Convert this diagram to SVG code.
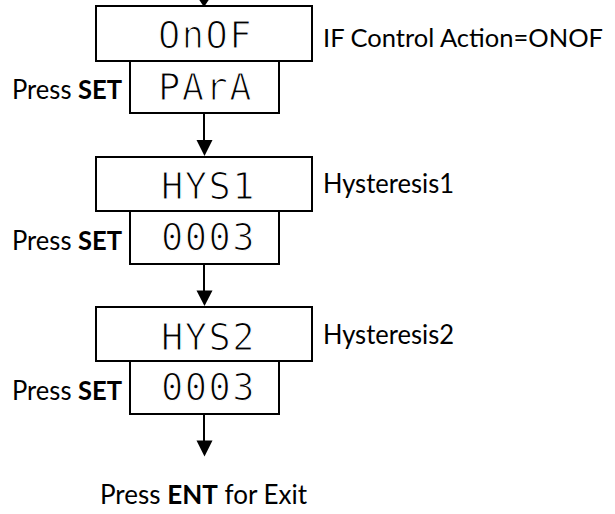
<svg xmlns="http://www.w3.org/2000/svg" width="615" height="514" viewBox="0 0 615 514">
<style>
.box{fill:#fff;stroke:#000;stroke-width:2}
.seg{font-family:"DejaVu Sans Mono","Liberation Mono",monospace;font-size:37px;fill:#000;stroke:#fff;stroke-width:1.2;letter-spacing:1.5px}
.lbl{font-family:Lato,"Open Sans","Liberation Sans",sans-serif;font-size:27px;fill:#000}
.sm{font-size:25px}
.b{font-weight:bold}
.ln{stroke:#000;stroke-width:2;fill:none}
</style>
<g id="connectors">
<line class="ln" x1="204" y1="0" x2="204" y2="2"/>
<polygon points="196,-5 212,-5 204,7"/>
<line class="ln" x1="204" y1="113" x2="204" y2="142"/>
<polygon points="196.5,140 212.5,140 204.5,156"/>
<line class="ln" x1="204" y1="264" x2="204" y2="292"/>
<polygon points="196.5,290.5 212.5,290.5 204.5,306"/>
<line class="ln" x1="204" y1="414" x2="204" y2="442"/>
<polygon points="196.5,440.5 212.5,440.5 204.5,456.5"/>
</g>
<g id="onof">
<rect class="box" x="96" y="6" width="216" height="55"/>
<text class="seg" x="158" y="48">OnOF</text>
<text class="lbl sm" x="323" y="47" textLength="280" lengthAdjust="spacingAndGlyphs">IF Control Action=ONOF</text>
</g>
<g id="para">
<rect class="box" x="130" y="61" width="149" height="52"/>
<text class="seg" x="158" y="100">PArA</text>
<text class="lbl" x="12" y="99" textLength="110" lengthAdjust="spacingAndGlyphs">Press <tspan class="b">SET</tspan></text>
</g>
<g id="hys1">
<rect class="box" x="96" y="157" width="216" height="54"/>
<text class="seg" x="161" y="199">HYS1</text>
<text class="lbl" x="323" y="193" textLength="131" lengthAdjust="spacingAndGlyphs">Hysteresis1</text>
</g>
<g id="val1">
<rect class="box" x="130" y="211" width="149" height="53"/>
<text class="seg" x="161" y="250">0003</text>
<text class="lbl" x="12" y="249.5" textLength="110" lengthAdjust="spacingAndGlyphs">Press <tspan class="b">SET</tspan></text>
</g>
<g id="hys2">
<rect class="box" x="96" y="307" width="216" height="54"/>
<text class="seg" x="161" y="350">HYS2</text>
<text class="lbl" x="323" y="343.5" textLength="131" lengthAdjust="spacingAndGlyphs">Hysteresis2</text>
</g>
<g id="val2">
<rect class="box" x="130" y="361" width="149" height="53"/>
<text class="seg" x="161" y="400">0003</text>
<text class="lbl" x="12" y="399.5" textLength="110" lengthAdjust="spacingAndGlyphs">Press <tspan class="b">SET</tspan></text>
</g>
<g id="exit">
<text class="lbl" x="100" y="504" textLength="207" lengthAdjust="spacingAndGlyphs">Press <tspan class="b">ENT</tspan> for Exit</text>
</g>
</svg>
